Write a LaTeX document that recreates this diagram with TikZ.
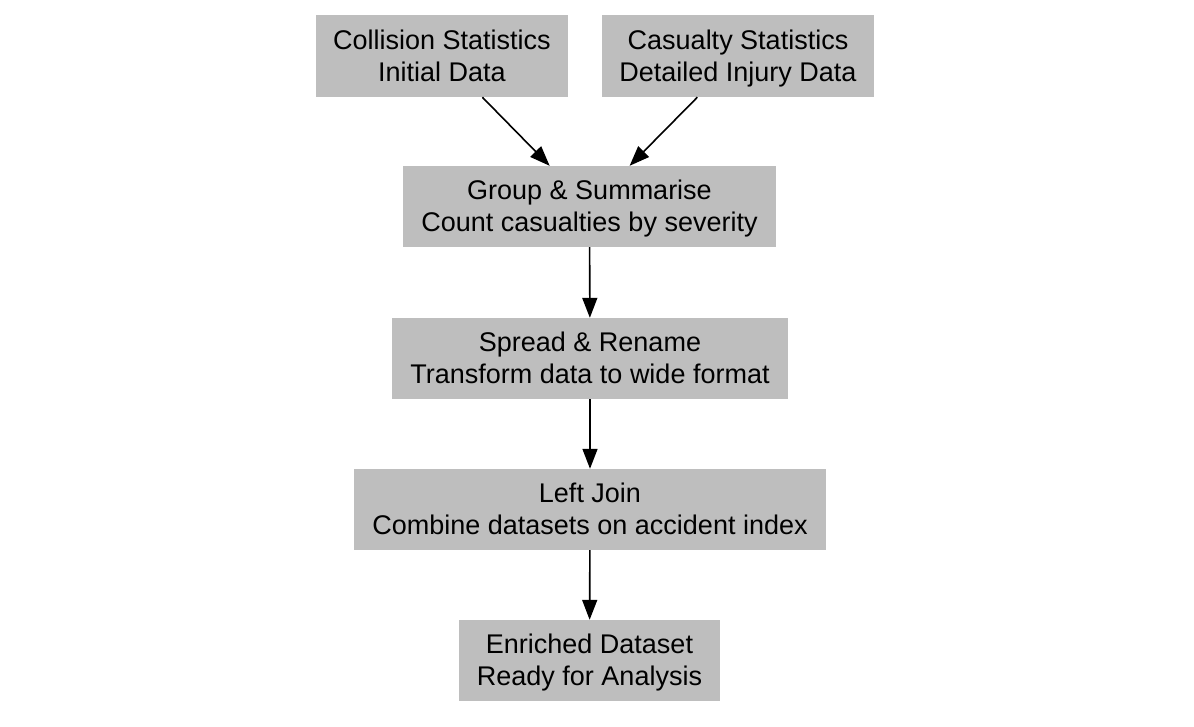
\documentclass[tikz,border=0pt]{standalone}
\usepackage{fontspec}
\setmainfont{Liberation Sans}
\usetikzlibrary{arrows.meta}
\definecolor{boxgray}{RGB}{190,190,190}
\tikzset{
  stepbox/.style={fill=boxgray, draw=none, inner sep=0pt, align=center,
    font=\fontsize{27}{32}\selectfont},
  flow/.style={-{Triangle[length=20pt,width=15pt]}, line width=1.6pt, black}
}
\newcommand{\twoln}[2]{\rule{0pt}{24pt}#1\\#2\rule[-5.7pt]{0pt}{0pt}}
\begin{document}
\begin{tikzpicture}[x=1pt,y=-1pt]
\useasboundingbox (0,0) rectangle (1194,726);
\fill[white] (0,0) rectangle (1194,726);
\node[stepbox, minimum width=252pt, minimum height=82pt] (c1) at (442,56) {\twoln{Collision Statistics}{Initial Data}};
\node[stepbox, minimum width=272pt, minimum height=82pt] (c2) at (738,56) {\twoln{Casualty Statistics}{Detailed Injury Data}};
\node[stepbox, minimum width=373pt, minimum height=81pt] (g) at (589.5,206.5) {\twoln{Group \& Summarise}{Count casualties by severity}};
\node[stepbox, minimum width=396pt, minimum height=81pt] (s) at (590,358.5) {\twoln{Spread \& Rename}{Transform data to wide format}};
\node[stepbox, minimum width=472pt, minimum height=81pt] (j) at (590,509.5) {\twoln{Left Join}{Combine datasets on accident index}};
\node[stepbox, minimum width=261pt, minimum height=81pt] (e) at (589.5,660.5) {\twoln{Enriched Dataset}{Ready for Analysis}};
\draw[flow] (c1) -- (g);
\draw[flow] (c2) -- (g);
\draw[flow] (g) -- (s);
\draw[flow] (s) -- (j);
\draw[flow] (j) -- (e);
\end{tikzpicture}
\end{document}
